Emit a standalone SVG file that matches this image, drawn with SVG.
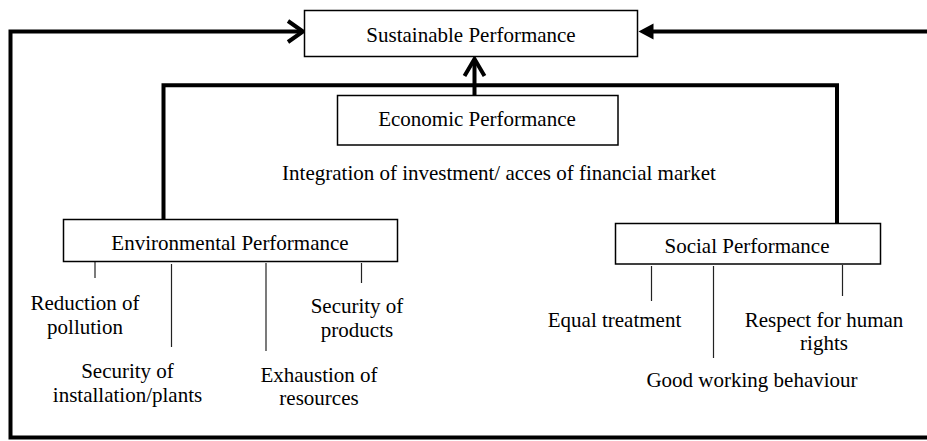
<svg xmlns="http://www.w3.org/2000/svg" width="927" height="441" viewBox="0 0 927 441">
  <style>
    .box { fill: #ffffff; stroke: #000000; stroke-width: 1.5; }
    .label { font-family: "Liberation Serif", "Times New Roman", serif; font-size: 21px; fill: #000000; text-anchor: middle; }
    .flow { fill: none; stroke: #000000; stroke-width: 4; stroke-linejoin: miter; }
    .head { fill: none; stroke: #000000; stroke-width: 4; stroke-linecap: butt; stroke-linejoin: miter; }
    .tick { fill: none; stroke: #222222; stroke-width: 1.2; }
  </style>
  <rect width="927" height="441" fill="#ffffff"/>

  <!-- connectors -->
  <g id="connectors">
    <!-- outer loop: left side round the bottom, back in from the right -->
    <path class="flow" d="M 302 31.5 H 10.5 V 437.5 H 930"/>
    <path class="head" d="M 288 21 L 303 31.5 L 288 42"/>
    <path class="flow" d="M 930 31.5 H 650"/>
    <polygon points="638.5,31.5 653.5,23.5 653.5,39.5" fill="#000000"/>
    <!-- inner frame joining environmental and social pillars -->
    <path class="flow" d="M 163.5 219 V 85.3 H 837 V 223"/>
    <!-- economic pillar up to the goal -->
    <path class="flow" d="M 474.5 95 V 60"/>
    <path class="head" d="M 464.5 76 L 474.5 59 L 484.5 76"/>
    <!-- environmental aspects -->
    <line class="tick" x1="95" y1="262" x2="95" y2="278"/>
    <line class="tick" x1="171.5" y1="264" x2="171.5" y2="347"/>
    <line class="tick" x1="266" y1="263" x2="266" y2="351"/>
    <line class="tick" x1="361.5" y1="263" x2="361.5" y2="283"/>
    <!-- social aspects -->
    <line class="tick" x1="651.5" y1="266" x2="651.5" y2="301"/>
    <line class="tick" x1="713.5" y1="266" x2="713.5" y2="358"/>
    <line class="tick" x1="842.5" y1="265" x2="842.5" y2="296"/>
  </g>

  <g id="sustainable">
    <rect class="box" x="304.5" y="10.5" width="333" height="46"/>
    <text class="label" x="471" y="42">Sustainable Performance</text>
  </g>

  <g id="economic">
    <rect class="box" x="337.5" y="95.5" width="280.5" height="49.5"/>
    <text class="label" x="477" y="126">Economic Performance</text>
  </g>

  <g id="economic-note">
    <text class="label" x="499" y="180">Integration of investment/ acces of financial market</text>
  </g>

  <g id="environmental">
    <rect class="box" x="63.5" y="219.5" width="334" height="42"/>
    <text class="label" x="230" y="250">Environmental Performance</text>
  </g>

  <g id="social">
    <rect class="box" x="615.5" y="223.5" width="265" height="40.5"/>
    <text class="label" x="747" y="253">Social Performance</text>
  </g>

  <g id="env-pollution">
    <text class="label" x="85" y="310">Reduction of</text>
    <text class="label" x="85" y="334">pollution</text>
  </g>
  <g id="env-installations">
    <text class="label" x="127.5" y="378">Security of</text>
    <text class="label" x="127.5" y="402">installation/plants</text>
  </g>
  <g id="env-resources">
    <text class="label" x="319" y="382">Exhaustion of</text>
    <text class="label" x="319" y="405">resources</text>
  </g>
  <g id="env-products">
    <text class="label" x="357" y="313">Security of</text>
    <text class="label" x="357" y="337">products</text>
  </g>

  <g id="soc-equal">
    <text class="label" x="614.5" y="327">Equal treatment</text>
  </g>
  <g id="soc-rights">
    <text class="label" x="824" y="327">Respect for human</text>
    <text class="label" x="824" y="350">rights</text>
  </g>
  <g id="soc-behaviour">
    <text class="label" x="752" y="387">Good working behaviour</text>
  </g>
</svg>
